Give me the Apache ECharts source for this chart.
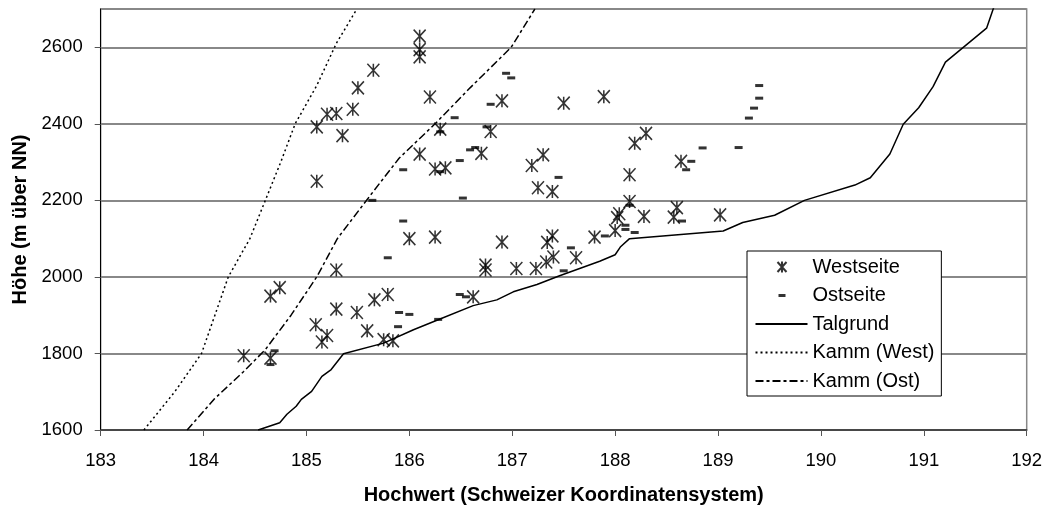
<!DOCTYPE html>
<html>
<head>
<meta charset="utf-8">
<script src="https://cdn.jsdelivr.net/npm/echarts@6/dist/echarts.min.js"></script>
<style>
  html, body { margin: 0; padding: 0; background: #fff; }
  #chart { width: 1046px; height: 510px; }
</style>
</head>
<body>
<div id="chart"></div>
<script>
// Messpunkte [Hochwert, Höhe]
const westseite = [
  [185.65, 2540], [185.50, 2494], [185.45, 2438], [185.29, 2427], [185.20, 2425],
  [185.10, 2392], [185.35, 2369], [185.10, 2250], [186.10, 2629], [186.10, 2594],
  [186.10, 2575], [186.20, 2470], [186.90, 2460], [187.50, 2454], [187.89, 2471],
  [186.30, 2386], [186.79, 2380], [186.10, 2321], [186.70, 2323], [186.25, 2282],
  [186.35, 2285], [187.30, 2319], [187.19, 2291], [188.30, 2375], [188.19, 2349],
  [188.14, 2267], [187.25, 2233], [187.39, 2223], [188.14, 2197], [188.64, 2302],
  [188.04, 2165], [188.02, 2155], [188.28, 2158], [188.60, 2181], [188.57, 2156],
  [188.00, 2121], [187.80, 2104], [189.02, 2162], [185.29, 2018], [184.65, 1950],
  [184.74, 1972], [184.39, 1794], [184.65, 1788], [185.09, 1875], [185.20, 1847],
  [185.15, 1830], [185.29, 1916], [185.49, 1907], [185.59, 1859], [185.66, 1940],
  [185.79, 1954], [185.75, 1836], [185.84, 1833], [186.00, 2100], [186.25, 2104],
  [186.90, 2091], [186.74, 2031], [186.74, 2018], [187.04, 2022], [187.23, 2022],
  [187.33, 2039], [187.40, 2052], [187.34, 2090], [187.39, 2107], [187.62, 2050],
  [186.62, 1948]
];
const ostseite = [
  [185.64, 2200], [186.94, 2532], [186.99, 2520], [186.79, 2451], [186.44, 2416],
  [186.75, 2392], [186.30, 2379], [186.64, 2338], [186.59, 2332], [186.49, 2304],
  [185.94, 2280], [186.30, 2275], [187.45, 2260], [186.52, 2206], [188.74, 2302],
  [188.69, 2280], [185.94, 2146], [188.65, 2146], [188.14, 2187], [188.10, 2135],
  [188.10, 2124], [188.19, 2116], [187.90, 2107], [189.40, 2500], [189.40, 2467],
  [189.35, 2441], [189.30, 2415], [188.85, 2337], [189.20, 2338], [184.69, 1807],
  [184.65, 1771], [185.79, 2050], [185.90, 1907], [186.00, 1902], [185.89, 1870],
  [186.28, 1889], [186.49, 1954], [186.55, 1948], [187.57, 2076], [187.50, 2016]
];
const talgrund = [
  [184.53, 1600], [184.74, 1619], [184.81, 1641], [184.90, 1662], [184.95, 1680],
  [185.05, 1701], [185.15, 1740], [185.24, 1758], [185.36, 1799], [185.75, 1827],
  [186.04, 1862], [186.28, 1888], [186.62, 1925], [186.85, 1940], [187.01, 1961],
  [187.24, 1980], [187.46, 2003], [187.85, 2041], [188.00, 2058], [188.05, 2078],
  [188.14, 2100], [189.05, 2120], [189.24, 2142], [189.55, 2161], [189.84, 2200],
  [190.33, 2240], [190.48, 2259], [190.67, 2321], [190.80, 2399], [190.95, 2442],
  [191.09, 2497], [191.21, 2561], [191.61, 2650], [191.70, 2720]
];
const kammWest = [
  [183.42, 1600], [183.72, 1700], [183.98, 1800], [184.11, 1900], [184.24, 2000],
  [184.45, 2100], [184.60, 2200], [184.75, 2300], [184.89, 2400], [185.10, 2500],
  [185.29, 2610], [185.49, 2700]
];
const kammOst = [
  [183.84, 1600], [184.10, 1680], [184.39, 1753], [184.60, 1810], [184.85, 1900],
  [185.10, 2000], [185.30, 2100], [185.62, 2213], [185.90, 2310], [186.25, 2400],
  [186.59, 2494], [186.99, 2600], [187.22, 2700]
];
const xTicks = [183, 192, 1];
const yTicks = [1600, 2700, 200];

const FONT = 'Arial, "Liberation Sans", sans-serif';
const STAR = 'path://M0,0L10,11M10,0L0,11M5,0L5,11';
const noMarker = { opacity: 0 };

let myChart = echarts.init(document.getElementById('chart'));
let option = {
  animation: false,
  backgroundColor: '#fff',
  textStyle: { fontFamily: FONT, color: '#000' },
  grid: {
    left: 100.7, right: 19.3, top: 9, bottom: 77.5,
    show: true, borderColor: '#888', borderWidth: 1.5
  },
  legend: {
    orient: 'vertical',
    left: 747, top: 251,
    itemWidth: 52, itemHeight: 14, itemGap: 8.5,
    padding: [6, 7, 5, 6],
    borderColor: '#000', borderWidth: 1, backgroundColor: '#fff',
    textStyle: { fontFamily: FONT, fontSize: 20, lineHeight: 20, color: '#000' },
    data: [
      { name: 'Westseite', icon: 'path://M0,0M52,14M22,2L31,12M31,2L22,12M26.5,1.5L26.5,12.5' },
      { name: 'Ostseite', icon: 'path://M0,0M52,14M23,5.5L30,5.5L30,8.5L23,8.5Z' },
      { name: 'Talgrund', itemStyle: noMarker },
      { name: 'Kamm (West)', itemStyle: noMarker },
      { name: 'Kamm (Ost)', itemStyle: noMarker }
    ]
  },
  xAxis: {
    type: 'value',
    min: xTicks[0], max: xTicks[1], interval: xTicks[2],
    name: 'Hochwert (Schweizer Koordinatensystem)',
    nameLocation: 'middle', nameGap: 55,
    nameTextStyle: { fontFamily: FONT, fontSize: 20, fontWeight: 'bold', color: '#000' },
    axisLine: { lineStyle: { color: '#333', width: 1.5 } },
    axisTick: { show: true, inside: false, length: 6, lineStyle: { color: '#555' } },
    axisLabel: { fontFamily: FONT, fontSize: 18.5, color: '#000', margin: 21 },
    splitLine: { show: false }
  },
  yAxis: {
    type: 'value',
    min: yTicks[0], max: yTicks[1], interval: yTicks[2],
    name: 'Höhe (m über NN)',
    nameLocation: 'middle', nameGap: 70,
    nameTextStyle: { fontFamily: FONT, fontSize: 20, fontWeight: 'bold', color: '#000' },
    axisLine: { show: true, lineStyle: { color: '#000', width: 1 } },
    axisTick: { show: true, inside: false, length: 6, lineStyle: { color: '#555' } },
    axisLabel: {
      fontFamily: FONT, fontSize: 18.5, color: '#000', margin: 18, showMaxLabel: false,
      formatter: function (v) { return String(v); }
    },
    splitLine: { show: true, lineStyle: { color: '#888', width: 2 } }
  },
  series: [
    {
      name: 'Westseite', type: 'scatter', data: westseite,
      symbol: STAR, symbolSize: [12, 13],
      itemStyle: { color: 'none', borderColor: '#000', borderWidth: 1.6 },
      z: 4
    },
    {
      name: 'Ostseite', type: 'scatter', data: ostseite,
      symbol: 'rect', symbolSize: [8, 3],
      itemStyle: { color: '#000' },
      z: 4
    },
    {
      name: 'Talgrund', type: 'line', data: talgrund,
      symbol: 'none', color: '#000',
      lineStyle: { color: '#000', width: 1.5 }
    },
    {
      name: 'Kamm (West)', type: 'line', data: kammWest,
      symbol: 'none', color: '#000',
      lineStyle: { color: '#000', width: 1.5, type: [2, 3] }
    },
    {
      name: 'Kamm (Ost)', type: 'line', data: kammOst,
      symbol: 'none', color: '#000',
      lineStyle: { color: '#000', width: 1.5, type: [8, 3, 3, 3] }
    }
  ]
};
myChart.setOption(option);
</script>
</body>
</html>
